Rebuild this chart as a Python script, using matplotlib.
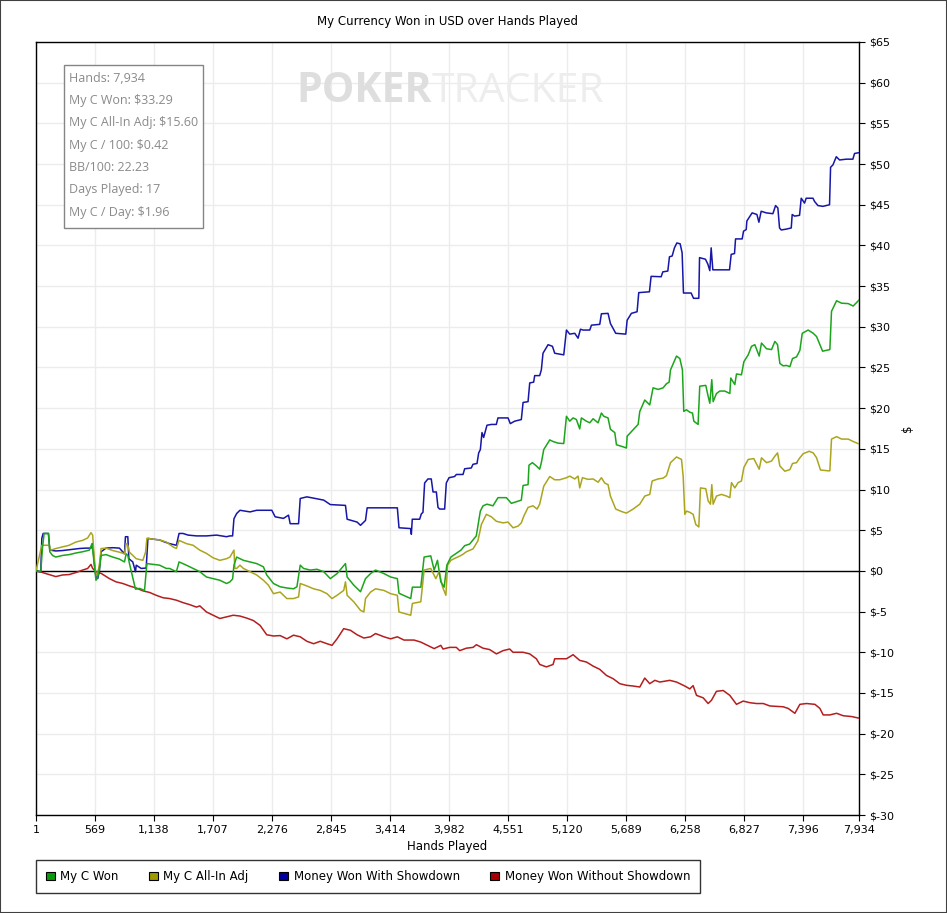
import matplotlib
matplotlib.use("Agg")
import matplotlib.pyplot as plt
from matplotlib.patches import Rectangle, Patch
from matplotlib.ticker import FuncFormatter

# ---- data (hand number, dollars) ----
green_hands = [1, 47, 63, 79, 121, 134, 160, 192, 257, 321, 386, 450, 515, 541, 557, 579, 596, 618, 628, 676,
               741, 805, 854, 870, 886, 902, 960, 999, 1047, 1070, 1128, 1193, 1257, 1289, 1354, 1380, 1451, 1515,
               1580, 1644, 1709, 1773, 1838, 1870, 1896, 1909, 1935, 2000, 2128, 2193, 2225, 2290, 2354, 2419,
               2483, 2516, 2548, 2580, 2645, 2709, 2774, 2838, 2903, 2984, 3000, 3064, 3129, 3177, 3226, 3274,
               3355, 3419, 3484, 3500, 3613, 3629, 3710, 3742, 3806, 3839, 3871, 3903, 3935, 3961, 4000, 4097,
               4133, 4181, 4207, 4245, 4284, 4310, 4348, 4406, 4454, 4535, 4583, 4631, 4679, 4696, 4744, 4753,
               4786, 4824, 4856, 4872, 4895, 4953, 4985, 5033, 5088, 5114, 5146, 5178, 5210, 5242, 5258, 5306,
               5339, 5371, 5419, 5451, 5474, 5515, 5538, 5580, 5596, 5660, 5692, 5699, 5724, 5757, 5805, 5821,
               5869, 5917, 5949, 5998, 6046, 6078, 6104, 6117, 6175, 6207, 6232, 6245, 6271, 6303, 6329, 6342,
               6383, 6399, 6457, 6480, 6496, 6515, 6528, 6560, 6592, 6641, 6689, 6698, 6737, 6753, 6801, 6824,
               6866, 6898, 6930, 6972, 6994, 7043, 7091, 7123, 7149, 7171, 7203, 7235, 7268, 7293, 7332, 7364,
               7387, 7444, 7493, 7525, 7557, 7583, 7653, 7669, 7718, 7766, 7830, 7878, 7934]
green_vals = [0, -0.1, 2.75, 4.6, 4.6, 2.35, 1.9, 1.7, 1.9, 2.0, 2.2, 2.35, 2.55, 3.35, 1.5, -1.15, -0.75, 0.7, 1.9, 2.0,
              1.7, 1.45, 1.1, 2.1, 1.9, 0.9, -2.25, -2.15, -2.4, 0.9, 0.8, 0.7, 0.3, 0.3, -0.1, 1.1, 0.7, 0.3,
              -0.1, -0.75, -0.95, -1.15, -1.55, -1.35, -1.0, 0.7, 1.7, 1.3, 0.9, 0.5, -0.5, -1.55, -1.95, -2.1,
              -2.2, -1.95, 0.7, 0.3, 0.1, 0.2, -0.1, -0.95, -0.33, 0.9, -0.75, -1.75, -2.56, -0.95, -0.33, 0.1,
              -0.33, -0.75, -0.95, -2.75, -3.4, -2.0, -2.0, 1.7, 1.85, 0.1, 1.3, -1.35, -2.0, 0.7, 1.7, 2.55,
              3.1, 3.3, 3.7, 4.3, 7.35, 8.0, 8.2, 8.0, 9.0, 9.0, 8.3, 8.5, 8.7, 10.5, 10.6, 13.0,
              13.3, 12.9, 12.5, 13.3, 14.9, 16.1, 15.9, 15.7, 15.65, 19.0, 18.4, 18.8, 18.6, 17.45, 18.8, 18.4,
              18.2, 18.7, 18.2, 19.4, 19.0, 18.8, 17.4, 17.0, 15.5, 15.25, 15.1, 16.55, 16.9, 17.35, 18.0, 19.6,
              21.0, 20.4, 22.5, 22.3, 22.5, 23.0, 23.2, 24.7, 26.4, 26.1, 24.7, 19.6, 19.8, 19.5, 19.4, 18.4,
              18.0, 22.7, 22.8, 21.45, 20.6, 23.5, 20.8, 21.8, 22.1, 22.1, 21.8, 23.7, 22.9, 24.2, 24.1, 25.7,
              26.55, 27.6, 27.8, 26.4, 28.0, 27.3, 27.2, 28.2, 27.8, 25.5, 25.2, 25.25, 25.1, 26.1, 26.3, 27.1,
              29.2, 29.6, 29.2, 28.8, 27.8, 27.0, 27.2, 31.9, 33.2, 32.9, 32.85, 32.55, 33.29]

olive_hands = [1, 57, 128, 144, 192, 257, 321, 386, 450, 499, 531, 547, 563, 579, 596, 618, 628, 676, 741, 805,
               854, 870, 886, 902, 967, 1031, 1057, 1070, 1128, 1193, 1257, 1322, 1354, 1380, 1451, 1515, 1580,
               1644, 1709, 1773, 1838, 1870, 1909, 1918, 1935, 1967, 2000, 2064, 2128, 2193, 2241, 2290, 2354,
               2419, 2483, 2532, 2548, 2612, 2677, 2741, 2806, 2854, 2903, 2967, 2984, 3000, 3064, 3129, 3161,
               3177, 3226, 3274, 3355, 3419, 3484, 3500, 3613, 3629, 3710, 3742, 3806, 3855, 3887, 3919, 3952,
               3968, 4000, 4097, 4117, 4149, 4213, 4261, 4294, 4342, 4390, 4438, 4503, 4551, 4599, 4647, 4679,
               4702, 4744, 4792, 4831, 4856, 4895, 4953, 5001, 5049, 5114, 5146, 5194, 5226, 5242, 5268, 5322,
               5371, 5419, 5451, 5483, 5515, 5538, 5589, 5644, 5692, 5757, 5821, 5869, 5917, 5940, 5998, 6046,
               6078, 6117, 6175, 6223, 6239, 6255, 6271, 6303, 6335, 6361, 6390, 6406, 6457, 6480, 6502, 6515,
               6528, 6560, 6608, 6657, 6689, 6705, 6737, 6769, 6801, 6824, 6866, 6920, 6972, 6994, 7043, 7091,
               7123, 7149, 7171, 7219, 7268, 7293, 7332, 7364, 7396, 7454, 7493, 7525, 7563, 7637, 7653, 7669,
               7718, 7766, 7830, 7878, 7934]
olive_vals = [0, 3.15, 3.15, 2.55, 2.75, 2.95, 3.15, 3.55, 3.75, 4.05, 4.7, 4.4, 1.5, -0.55, -0.35, 1.3, 2.75, 2.8, 2.5, 2.3,
              2.1, 3.35, 3.15, 2.3, 1.5, 1.3, 2.3, 4.0, 3.9, 3.8, 3.55, 2.95, 2.75, 3.75, 3.35, 3.15, 2.55,
              2.15, 1.6, 1.3, 1.5, 1.7, 2.55, 0.3, 0.3, 0.7, 0.3, -0.1, -0.5, -1.15, -1.75, -2.8, -2.6,
              -3.4, -3.4, -3.2, -1.55, -1.85, -2.2, -2.4, -2.8, -3.4, -3.0, -2.4, -1.35, -3.0, -3.8, -4.85, -5.05,
              -3.4, -2.6, -2.2, -2.4, -2.8, -3.0, -5.05, -5.45, -4.0, -3.8, 0.1, 0.3, -0.95, -0.1, -1.95, -3.0,
              0.7, 1.3, 1.9, 2.05, 2.35, 2.7, 3.7, 5.7, 6.95, 6.65, 6.1, 5.9, 6.0, 5.3, 5.5, 5.9,
              6.7, 7.8, 8.0, 7.6, 8.2, 10.4, 11.6, 11.2, 11.2, 11.45, 11.65, 11.3, 11.65, 10.2, 11.45, 11.25,
              11.3, 10.9, 11.45, 10.8, 10.6, 9.2, 7.6, 7.3, 7.1, 7.6, 8.2, 9.2, 9.4, 11.05, 11.3, 11.4,
              11.7, 13.3, 14.0, 13.7, 11.65, 6.95, 7.35, 7.2, 6.95, 5.7, 5.4, 10.2, 10.1, 8.6, 8.2, 10.6,
              8.2, 9.2, 9.4, 9.2, 9.0, 10.85, 10.2, 10.85, 11.05, 12.7, 13.7, 13.8, 12.5, 13.9, 13.3, 13.5,
              14.1, 14.5, 12.9, 12.25, 12.45, 13.2, 13.3, 13.9, 14.4, 14.7, 14.5, 13.9, 12.4, 12.3, 12.3, 16.2,
              16.5, 16.2, 16.2, 15.9, 15.6]

blue_hands = [1, 47, 57, 70, 121, 134, 192, 257, 321, 418, 483, 531, 547, 563, 579, 596, 612, 628, 676, 741,
              805, 854, 863, 886, 896, 934, 960, 967, 1015, 1063, 1080, 1128, 1193, 1241, 1289, 1354, 1380,
              1418, 1467, 1548, 1644, 1741, 1838, 1870, 1896, 1909, 1935, 1967, 2064, 2128, 2274, 2306, 2386,
              2435, 2451, 2532, 2548, 2612, 2774, 2838, 2984, 3000, 3096, 3129, 3177, 3193, 3484, 3500, 3613,
              3619, 3628, 3699, 3715, 3731, 3747, 3779, 3811, 3828, 3860, 3876, 3892, 3940, 3956, 3982, 4036,
              4053, 4117, 4133, 4197, 4213, 4252, 4268, 4284, 4300, 4316, 4348, 4390, 4438, 4454, 4551, 4573,
              4615, 4679, 4696, 4744, 4760, 4798, 4808, 4856, 4872, 4888, 4937, 4979, 5001, 5088, 5114, 5146,
              5194, 5226, 5249, 5274, 5339, 5355, 5435, 5451, 5515, 5538, 5589, 5686, 5699, 5740, 5795, 5811,
              5914, 5930, 6027, 6043, 6091, 6107, 6133, 6155, 6178, 6210, 6229, 6242, 6316, 6339, 6390, 6397,
              6454, 6477, 6496, 6509, 6525, 6686, 6702, 6734, 6744, 6808, 6821, 6847, 6853, 6904, 6950, 6969,
              6991, 7040, 7104, 7130, 7152, 7168, 7184, 7232, 7281, 7290, 7313, 7361, 7377, 7409, 7425, 7490,
              7506, 7538, 7586, 7650, 7660, 7683, 7715, 7747, 7811, 7875, 7891, 7934]
blue_vals = [0, -0.1, 4.0, 4.6, 4.6, 2.55, 2.45, 2.5, 2.6, 2.75, 2.8, 2.8, 3.35, 1.0, -0.75, -0.95, 0, 2.35, 2.8, 2.85,
             2.8, 2.1, 4.2, 4.2, 1.5, 1.1, -0.1, 0.7, 0.3, 0.35, 4.0, 3.9, 3.8, 3.55, 3.35, 3.15, 4.6,
             4.6, 4.4, 4.3, 4.3, 4.4, 4.2, 4.3, 4.3, 6.4, 7.05, 7.45, 7.25, 7.45, 7.45, 6.65, 6.45,
             6.85, 5.8, 5.8, 8.9, 9.1, 8.7, 8.15, 8.05, 6.35, 6.0, 5.6, 6.2, 7.75, 7.75, 5.3, 5.2,
             4.5, 6.35, 6.35, 7.0, 7.2, 10.8, 11.3, 11.3, 9.7, 9.7, 7.8, 7.6, 7.6, 10.8, 11.45, 11.6,
             11.85, 11.85, 12.55, 12.65, 13.1, 13.2, 14.5, 14.9, 17.0, 16.4, 17.9, 18.0, 18.0, 18.8, 18.8, 18.1,
             18.4, 18.6, 20.7, 20.8, 23.1, 23.2, 24.0, 24.0, 24.7, 26.75, 27.8, 27.6, 26.75, 26.55, 29.6, 29.1,
             29.2, 28.6, 29.7, 29.6, 29.6, 30.2, 30.3, 31.6, 31.65, 30.4, 29.2, 29.1, 30.8, 31.65, 31.85, 34.2,
             34.3, 36.2, 36.15, 36.75, 36.85, 38.6, 38.7, 39.7, 40.3, 40.2, 39.1, 34.15, 34.15, 33.5, 33.5, 38.5,
             38.3, 37.7, 36.9, 39.7, 37.0, 37.0, 38.9, 39.0, 40.8, 40.8, 41.75, 41.95, 43.0, 44.0, 43.8, 42.85,
             44.2, 44.0, 43.9, 44.9, 44.6, 42.15, 41.9, 42.0, 42.15, 43.8, 43.6, 43.7, 45.8, 45.2, 45.8, 45.8,
             45.4, 44.9, 44.8, 45.0, 49.6, 49.9, 50.9, 50.5, 50.6, 50.6, 51.3, 51.4]

red_hands = [1, 63, 128, 192, 257, 321, 386, 450, 499, 531, 547, 579, 628, 709, 773, 838, 902, 967, 1031, 1096,
             1160, 1225, 1289, 1354, 1418, 1483, 1548, 1580, 1644, 1709, 1773, 1838, 1902, 1967, 2032, 2096,
             2161, 2225, 2290, 2354, 2419, 2483, 2548, 2612, 2677, 2741, 2806, 2854, 2903, 2967, 3032, 3096,
             3161, 3226, 3274, 3355, 3419, 3484, 3548, 3645, 3710, 3774, 3839, 3903, 3924, 3988, 4053, 4085,
             4149, 4214, 4246, 4310, 4374, 4439, 4503, 4567, 4599, 4696, 4760, 4824, 4857, 4921, 4985, 5001,
             5049, 5114, 5178, 5242, 5307, 5371, 5435, 5500, 5564, 5628, 5692, 5757, 5821, 5869, 5917, 5966,
             6014, 6110, 6175, 6255, 6303, 6335, 6368, 6432, 6480, 6512, 6560, 6625, 6689, 6753, 6818, 6882,
             6946, 7011, 7075, 7139, 7203, 7251, 7316, 7364, 7428, 7509, 7557, 7589, 7653, 7718, 7782, 7862, 7934]
red_vals = [0, -0.2, -0.45, -0.7, -0.5, -0.45, -0.2, 0.1, 0.3, 0.8, 0.3, -0.1, -0.3, -0.95, -1.35, -1.55, -1.85, -2.1, -2.45, -2.65,
            -3.0, -3.3, -3.4, -3.6, -3.9, -4.15, -4.45, -4.3, -5.05, -5.45, -5.85, -5.65, -5.45, -5.55, -5.8, -6.1,
            -6.7, -7.85, -8.0, -7.95, -8.35, -7.9, -8.1, -8.65, -8.95, -8.65, -8.95, -9.15, -8.35, -7.1, -7.3, -7.85,
            -8.25, -8.1, -7.7, -8.1, -8.35, -8.1, -8.5, -8.5, -8.75, -9.15, -9.55, -9.15, -9.6, -9.4, -9.4, -9.8,
            -9.5, -9.4, -9.07, -9.5, -9.67, -10.2, -9.8, -9.6, -10.0, -10.0, -10.2, -10.8, -11.5, -11.8, -11.5, -10.8,
            -10.8, -10.8, -10.3, -11.0, -11.2, -11.7, -12.1, -12.85, -13.25, -13.86, -14.06, -14.15, -14.27, -13.17, -13.86, -13.45,
            -13.66, -13.45, -13.66, -14.15, -14.5, -14.1, -15.3, -15.6, -16.3, -15.9, -14.8, -14.7, -15.3, -16.4, -16.0, -16.2,
            -16.3, -16.3, -16.6, -16.65, -16.7, -16.9, -17.5, -16.4, -16.3, -16.4, -16.9, -17.7, -17.7, -17.5, -17.8, -17.9, -18.1]

x_ticks = [1, 569, 1138, 1707, 2276, 2845, 3414, 3982, 4551, 5120, 5689, 6258, 6827, 7396, 7934]
y_ticks = list(range(-30, 66, 5))

stats_lines = ["Hands: 7,934", "My C Won: $33.29", "My C All-In Adj: $15.60", "My C / 100: $0.42",
               "BB/100: 22.23", "Days Played: 17", "My C / Day: $1.96"]

series = [
    ("My C Won", green_hands, green_vals, "#1ca51c", "#0a9a0a"),
    ("My C All-In Adj", olive_hands, olive_vals, "#aba51e", "#a09a00"),
    ("Money Won With Showdown", blue_hands, blue_vals, "#1616a8", "#0000a0"),
    ("Money Won Without Showdown", red_hands, red_vals, "#b41e1e", "#a80000"),
]

plt.rcParams['font.family'] = ['DejaVu Sans']
W, H = 947, 913
fig = plt.figure(figsize=(W / 100, H / 100), dpi=100)
ax = fig.add_axes([36 / W, (H - 815) / H, (859 - 36) / W, (815 - 42) / H])

ax.axhline(0, color="black", lw=1, zorder=3)
for name, xs, ys, col, _ in series[::-1]:
    ax.plot(xs, ys, color=col, lw=1.1, zorder=4)

ax.set_xlim(1, 7934)
ax.set_ylim(-30, 65)
ax.set_xticks(x_ticks)
ax.set_xticklabels([f"{t:,}" for t in x_ticks])
ax.set_yticks(y_ticks)
ax.yaxis.set_major_formatter(FuncFormatter(lambda v, p: f"${int(v)}"))
ax.yaxis.tick_right()
ax.yaxis.set_label_position("right")
ax.tick_params(axis="both", labelsize=8, length=4, width=0.8, direction="out", colors="black")
ax.tick_params(axis="y", pad=3)
ax.grid(True, color="#ececec", lw=1)
ax.set_axisbelow(True)
for s in ax.spines.values():
    s.set_color("black")
    s.set_linewidth(1)

ax.set_xlabel("Hands Played", fontsize=8.5, labelpad=3)
ax.set_ylabel("$", fontsize=8.5, labelpad=5)
ax.set_title("My Currency Won in USD over Hands Played", fontsize=8.5, pad=12)

# watermark
wm_x = (432 - 36) / (859 - 36)
wm_y = (815 - 92) / (815 - 42)
ax.text(wm_x, wm_y, "POKER", transform=ax.transAxes, ha="right", va="center",
        fontsize=29.5, fontweight="bold", color="#dedede", family="Open Sans", zorder=1)
ax.text(wm_x, wm_y, "TRACKER", transform=ax.transAxes, ha="left", va="center",
        fontsize=29.5, color="#ededed", family="Open Sans", zorder=1)

# stats box
ax.add_patch(Rectangle(((64 - 36) / (859 - 36), (815 - 228) / (815 - 42)),
                       139 / (859 - 36), 163 / (815 - 42), transform=ax.transAxes,
                       facecolor="white", edgecolor="#858585", lw=1, zorder=5))
for i, line in enumerate(stats_lines):
    ax.text((69 - 36) / (859 - 36), (815 - 78 - i * 22.4) / (815 - 42), line, transform=ax.transAxes,
            ha="left", va="center", fontsize=9, color="#8a8a8a", family="Open Sans", zorder=6)

# legend
handles = [Patch(facecolor=lc, edgecolor="black", lw=0.8, label=n) for n, _, _, _, lc in series]
leg = fig.legend(handles=handles, loc="lower left", bbox_to_anchor=(36 / W, (H - 893) / H),
                 ncol=4, frameon=True, fancybox=False, fontsize=8.5, handlelength=0.75,
                 handleheight=0.75, handletextpad=0.45, columnspacing=2.6, borderpad=0.85,
                 borderaxespad=0)
leg.get_frame().set_edgecolor("black")
leg.get_frame().set_linewidth(1)

fig.patches.append(Rectangle((0, 0), 1, 1, transform=fig.transFigure, fill=False,
                             edgecolor="#404040", lw=1.5))

fig.savefig("out.png", dpi=100)
